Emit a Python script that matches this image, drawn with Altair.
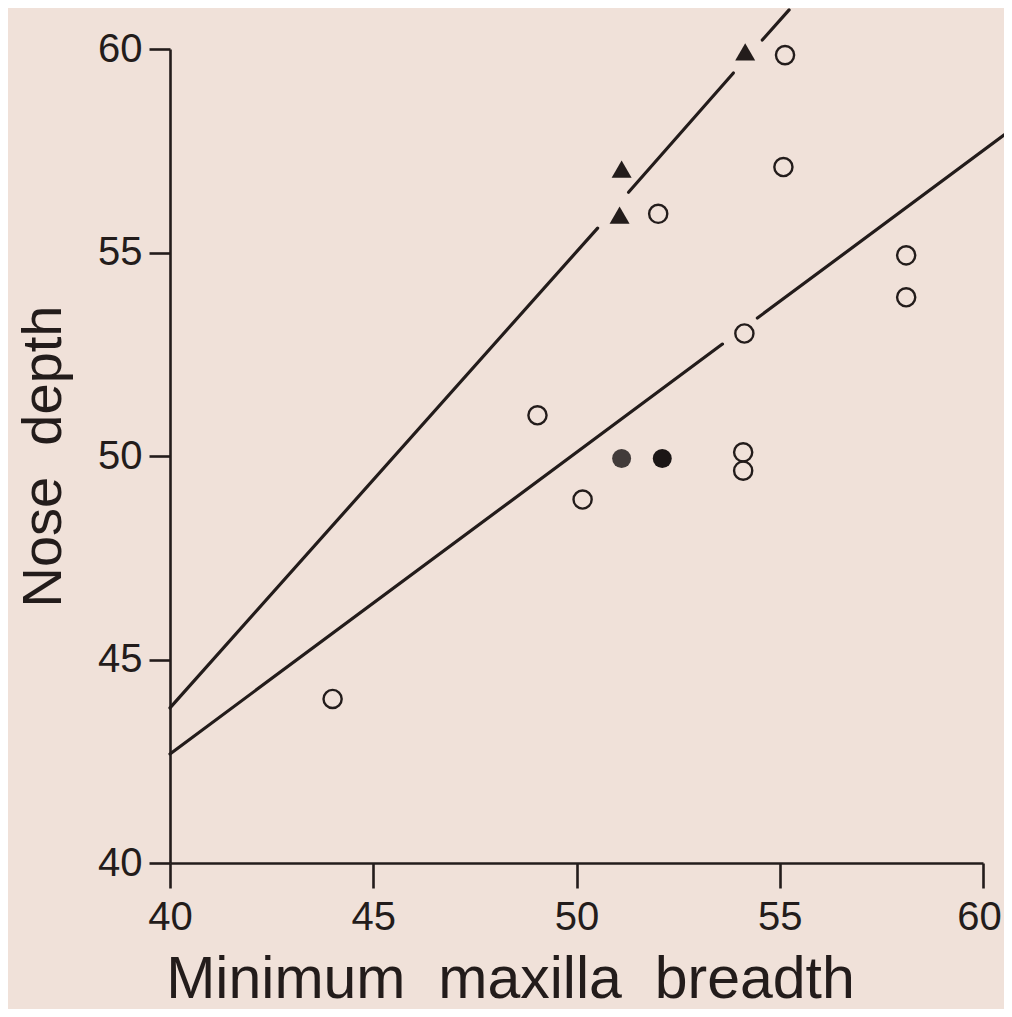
import altair as alt
import pandas as pd

# ---- data ----
open_x = [55.13, 55.09, 52.01, 58.11, 58.11, 54.13, 49.04, 50.15, 54.10, 54.10, 44.00]
open_y = [59.85, 57.10, 55.95, 54.93, 53.90, 53.01, 51.00, 48.93, 50.09, 49.64, 44.03]

tri_x = [51.11, 51.06, 54.15]
tri_y = [57.05, 55.92, 59.93]

dot_x = [51.11, 52.11]
dot_y = [49.94, 49.94]
dot_col = ["#423b3a", "#1b1616"]

# regression lines, drawn as segments (gaps where the line passes the symbols)
upper_x1 = [40.00, 51.28, 54.57]
upper_y1 = [43.81, 56.48, 60.22]
upper_x2 = [50.52, 53.86, 55.23]
upper_y2 = [55.60, 59.41, 60.96]

lower_x1 = [40.00, 54.45]
lower_y1 = [42.68, 53.39]
lower_x2 = [53.59, 60.90]
lower_y2 = [52.75, 58.17]

ticks = [40, 45, 50, 55, 60]

ink = "#231c1b"
bg = "#f0e1d9"
font = "Liberation Sans"

df_open = pd.DataFrame({"x": open_x, "y": open_y})
df_tri = pd.DataFrame({"x": tri_x, "y": tri_y})
df_dot = pd.DataFrame({"x": dot_x, "y": dot_y, "c": dot_col})
df_seg = pd.DataFrame({
    "x": upper_x1 + lower_x1,
    "y": upper_y1 + lower_y1,
    "x2": upper_x2 + lower_x2,
    "y2": upper_y2 + lower_y2,
})

xscale = alt.Scale(domain=[40, 60], nice=False, zero=False)
yscale = alt.Scale(domain=[40, 60], nice=False, zero=False)

xaxis = alt.Axis(
    values=ticks, grid=False, labelFlush=False,
    domainColor=ink, domainWidth=2.6, tickColor=ink, tickWidth=2.6, tickSize=25,
    labelFont=font, labelFontSize=40, labelColor=ink, labelPadding=9,
    labelOffset={"condition": {"test": "datum.value == 60", "value": -4}, "value": 0},
    title="Minimum\u00a0 maxilla\u00a0 breadth",
    titleFont=font, titleFontSize=59, titleFontWeight="normal", titleColor=ink,
    titleX=340, titleY=134, titleBaseline="alphabetic", titleAlign="center",
)
yaxis = alt.Axis(
    values=ticks, grid=False, labelFlush=False,
    domainColor=ink, domainWidth=2.6, tickColor=ink, tickWidth=2.6, tickSize=21,
    labelFont=font, labelFontSize=40, labelColor=ink, labelPadding=7,
    title="Nose\u00a0 depth",
    titleFont=font, titleFontSize=56, titleFontWeight="normal", titleColor=ink,
    titleX=-110, titleY=407, titleAngle=270, titleBaseline="alphabetic", titleAlign="center",
)

base_x = alt.X("x:Q", scale=xscale, axis=xaxis)
base_y = alt.Y("y:Q", scale=yscale, axis=yaxis)

segs = alt.Chart(df_seg).mark_rule(color=ink, strokeWidth=3.2, strokeCap="round").encode(
    x=base_x, y=base_y, x2="x2:Q", y2="y2:Q"
)

opens = alt.Chart(df_open).mark_point(
    shape="circle", filled=False, size=330, strokeWidth=2.4, color=ink, opacity=1
).encode(x="x:Q", y="y:Q")

tris = alt.Chart(df_tri).mark_point(
    shape="triangle-up", filled=True, size=400, color=ink, opacity=1
).encode(x="x:Q", y="y:Q")

dots = alt.Chart(df_dot).mark_point(
    shape="circle", filled=True, size=360, opacity=1
).encode(x="x:Q", y="y:Q", color=alt.Color("c:N", scale=None))

chart = alt.layer(segs, opens, tris, dots).properties(
    width=813, height=814,
    padding={"left": 162, "top": 41, "right": 21, "bottom": 146},
    autosize=alt.AutoSizeParams(type="none"),
    background=bg,
).configure_view(stroke=None)

chart.save("out.html", embed_options={"renderer": "svg", "actions": False})
